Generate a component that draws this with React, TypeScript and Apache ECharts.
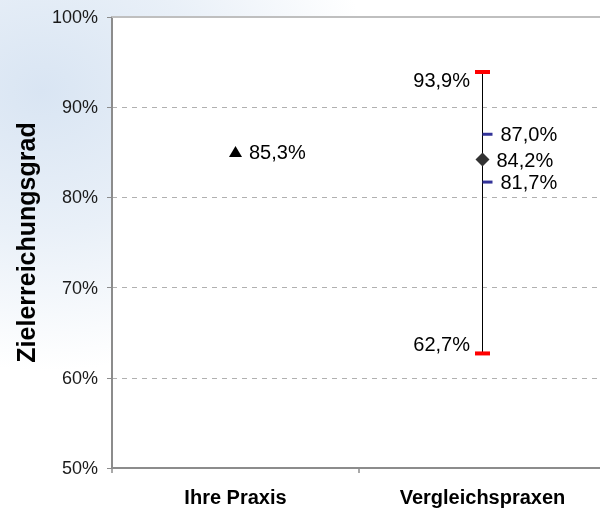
import React, { useEffect, useRef } from "react";
import * as echarts from "echarts";

const categories = ["Ihre Praxis", "Vergleichspraxen"];
const yAxisName = "Zielerreichungsgrad";
const yMin = 50;
const yMax = 100;
const yInterval = 10;

const praxisValue = 85.3;
const compMax = 93.9;
const compMin = 62.7;
const compMean = 84.2;
const compUpper = 87.0;
const compLower = 81.7;

const FONT = "'Liberation Sans', Arial, sans-serif";
const fmt = (v: number) => v.toFixed(1).replace(".", ",") + "%";

export default function App() {
  const ref = useRef<HTMLDivElement>(null);
  useEffect(() => {
    if (!ref.current) return;
    const chart = echarts.init(ref.current, undefined, { renderer: "svg" });
    const labelBase = {
      show: true,
      fontFamily: FONT,
      fontSize: 20,
      color: "#000",
      formatter: (p: any) => fmt(p.value[1]),
    };
    chart.setOption({
      animation: false,
      graphic: [
        {
          type: "rect",
          left: 0,
          top: 0,
          z: -100,
          silent: true,
          shape: { width: 600, height: 508 },
          style: {
            fill: new echarts.graphic.RadialGradient(0.07, 0.18, 0.55, [
              { offset: 0, color: "#d9e5f3" },
              { offset: 0.5, color: "#e9f0f8" },
              { offset: 1, color: "#ffffff" },
            ]),
          },
        },
      ],
      grid: {
        left: 112,
        right: -6,
        top: 17,
        bottom: 40,
        outerBoundsMode: "none",
        containLabel: false,
        show: true,
        backgroundColor: "#ffffff",
        borderWidth: 0,
      },
      xAxis: [
        {
          type: "category",
          data: categories,
          position: "bottom",
          axisLine: { lineStyle: { color: "#8c8c8c", width: 2 } },
          axisTick: { show: true, length: 5, lineStyle: { color: "#8c8c8c", width: 1.5 } },
          axisLabel: {
            fontFamily: FONT,
            fontSize: 20,
            fontWeight: "bold",
            color: "#000",
            margin: 19,
          },
          splitLine: { show: false },
        },
        {
          type: "category",
          data: categories,
          position: "top",
          axisLine: { lineStyle: { color: "#bfbfbf", width: 2 } },
          axisTick: { show: false },
          axisLabel: { show: false },
          splitLine: { show: false },
        },
      ],
      yAxis: {
        type: "value",
        min: yMin,
        max: yMax,
        interval: yInterval,
        name: yAxisName,
        nameLocation: "middle",
        nameGap: 74,
        nameTextStyle: {
          fontFamily: FONT,
          fontSize: 25,
          fontWeight: "bold",
          color: "#000",
        },
        axisLine: { show: true, lineStyle: { color: "#8c8c8c", width: 2 } },
        axisTick: { show: true, length: 5, lineStyle: { color: "#8c8c8c", width: 1 } },
        axisLabel: {
          formatter: "{value}%",
          fontFamily: FONT,
          fontSize: 18,
          color: "#1a1a1a",
          margin: 14,
        },
        splitLine: {
          show: true,
          lineStyle: { color: "#b0b0b0", width: 1, type: [5, 5] },
        },
      },
      series: [
        {
          type: "line",
          data: [
            [categories[1], compMin],
            [categories[1], compMax],
          ],
          showSymbol: false,
          symbol: "none",
          lineStyle: { color: "#000", width: 1 },
          z: 1,
          silent: true,
        },
        {
          type: "scatter",
          data: [[categories[0], praxisValue]],
          symbol: "triangle",
          symbolSize: [13, 11],
          symbolOffset: [0, 2],
          itemStyle: { color: "#000", opacity: 1 },
          label: { ...labelBase, position: "right", distance: 7 },
          z: 3,
        },
        {
          type: "scatter",
          data: [
            { value: [categories[1], compMax], label: { offset: [0, 8] } },
            { value: [categories[1], compMin], label: { offset: [0, -9] } },
          ],
          symbol: "rect",
          symbolSize: [15, 4],
          itemStyle: { color: "#ff0000", opacity: 1 },
          label: { ...labelBase, position: "left", distance: 5 },
          z: 3,
        },
        {
          type: "scatter",
          data: [
            [categories[1], compUpper],
            [categories[1], compLower],
          ],
          symbol: "rect",
          symbolSize: [10, 3],
          symbolOffset: [5, 0],
          itemStyle: { color: "#333399", opacity: 1 },
          label: { ...labelBase, position: "right", distance: 8 },
          z: 3,
        },
        {
          type: "scatter",
          data: [[categories[1], compMean]],
          symbol: "diamond",
          symbolSize: 14,
          itemStyle: { color: "#333333", opacity: 1 },
          label: { ...labelBase, position: "right", distance: 7 },
          z: 4,
        },
      ],
    });
    return () => chart.dispose();
  }, []);
  return (
    <div
      ref={ref}
      style={{ position: "fixed", left: 0, top: 0, width: 600, height: 508 }}
    />
  );
}
